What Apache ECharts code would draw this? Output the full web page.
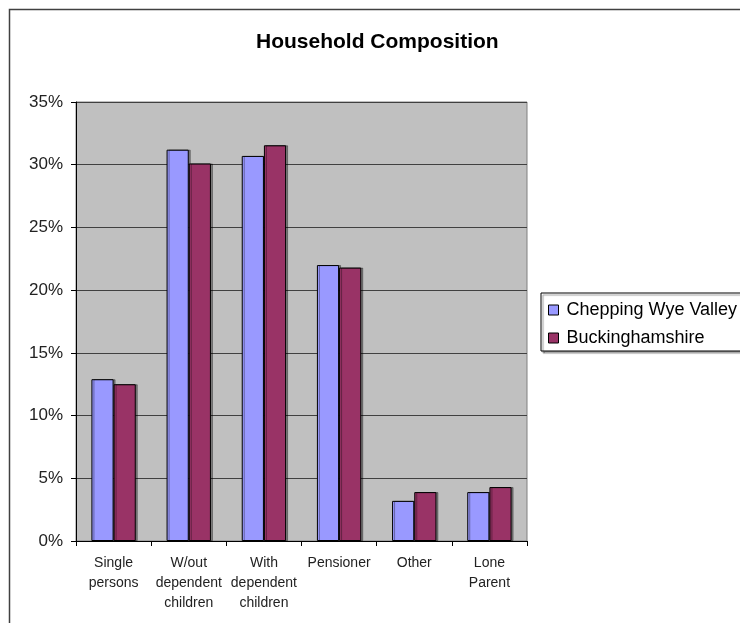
<!DOCTYPE html>
<html>
<head>
  <meta charset="utf-8" />
  <title>Household Composition</title>
  <script src="https://cdn.jsdelivr.net/npm/echarts@6/dist/echarts.min.js"></script>
  <style>
    html, body { margin: 0; padding: 0; background: #fff; }
  </style>
</head>
<body>
  <div id="main" style="width: 740px;height:623px;"></div>
  <script type="text/javascript">
    // household composition, % of households
    var categories = ['Single\npersons', 'W/out\ndependent\nchildren', 'With\ndependent\nchildren', 'Pensioner', 'Other', 'Lone\nParent'];
    var chepping = [12.9, 31.2, 30.7, 22.0, 3.2, 3.9];
    var bucks = [12.5, 30.1, 31.55, 21.8, 3.9, 4.3];
    var yTicks = { min: 0, max: 35, interval: 5 };

    var myChart = echarts.init(document.getElementById('main'));
    var font = 'Liberation Sans, Arial, sans-serif';

    var barStyle = function (c) {
      return {
        color: c,
        borderColor: '#000',
        borderWidth: 1,
        shadowColor: 'rgba(0,0,0,0.35)',
        shadowOffsetX: 2,
        shadowOffsetY: 0
      };
    };

    var option = {
      animation: false,
      backgroundColor: '#fff',
      title: {
        text: 'Household Composition',
        left: 256,
        top: 32,
        padding: 0,
        textStyle: { fontFamily: font, fontSize: 21, fontWeight: 'bold', color: '#000' }
      },
      graphic: [{
        type: 'rect',
        shape: { x: 9.5, y: 9.5, width: 900, height: 800 },
        style: { fill: 'none', stroke: '#404040', lineWidth: 1.5 },
        z: -1
      }],
      legend: {
        orient: 'vertical',
        left: 541,
        top: 293,
        padding: [7, 40, 3, 7],
        itemGap: 8,
        itemWidth: 10,
        itemHeight: 10,
        backgroundColor: '#fff',
        borderColor: '#000',
        borderWidth: 1,
        shadowColor: 'rgba(0,0,0,0.4)',
        shadowOffsetX: 2,
        shadowOffsetY: 2,
        shadowBlur: 1,
        textStyle: { fontFamily: font, fontSize: 18, color: '#000', lineHeight: 20, padding: [0, 0, 0, 3] },
        data: [
          { name: 'Chepping Wye Valley', icon: 'rect', itemStyle: { borderColor: '#000', borderWidth: 1 } },
          { name: 'Buckinghamshire', icon: 'rect', itemStyle: { borderColor: '#000', borderWidth: 1 } }
        ]
      },
      grid: {
        left: 76,
        right: 213,
        top: 102,
        bottom: 82,
        show: true,
        backgroundColor: '#C0C0C0',
        borderColor: '#808080',
        borderWidth: 1
      },
      xAxis: {
        type: 'category',
        data: categories,
        axisLine: { lineStyle: { color: '#000', width: 1 } },
        axisTick: { show: true, length: 5, lineStyle: { color: '#000' } },
        axisLabel: {
          interval: 0,
          margin: 12,
          fontFamily: font,
          fontSize: 14,
          lineHeight: 20,
          color: '#222'
        }
      },
      yAxis: {
        type: 'value',
        min: yTicks.min,
        max: yTicks.max,
        interval: yTicks.interval,
        axisLine: { show: true, lineStyle: { color: '#000', width: 1 } },
        axisTick: { show: true, length: 5, lineStyle: { color: '#000' } },
        axisLabel: {
          formatter: '{value}%',
          margin: 13,
          fontFamily: font,
          fontSize: 17,
          color: '#222'
        },
        splitLine: { lineStyle: { color: '#404040', width: 1 } }
      },
      series: [
        {
          name: 'Chepping Wye Valley',
          type: 'bar',
          data: chepping,
          barGap: '0%',
          barCategoryGap: '41%',
          itemStyle: barStyle('#9999FF')
        },
        {
          name: 'Buckinghamshire',
          type: 'bar',
          data: bucks,
          barGap: '0%',
          barCategoryGap: '41%',
          itemStyle: barStyle('#993366')
        }
      ]
    };

    option && myChart.setOption(option);
  </script>
</body>
</html>
